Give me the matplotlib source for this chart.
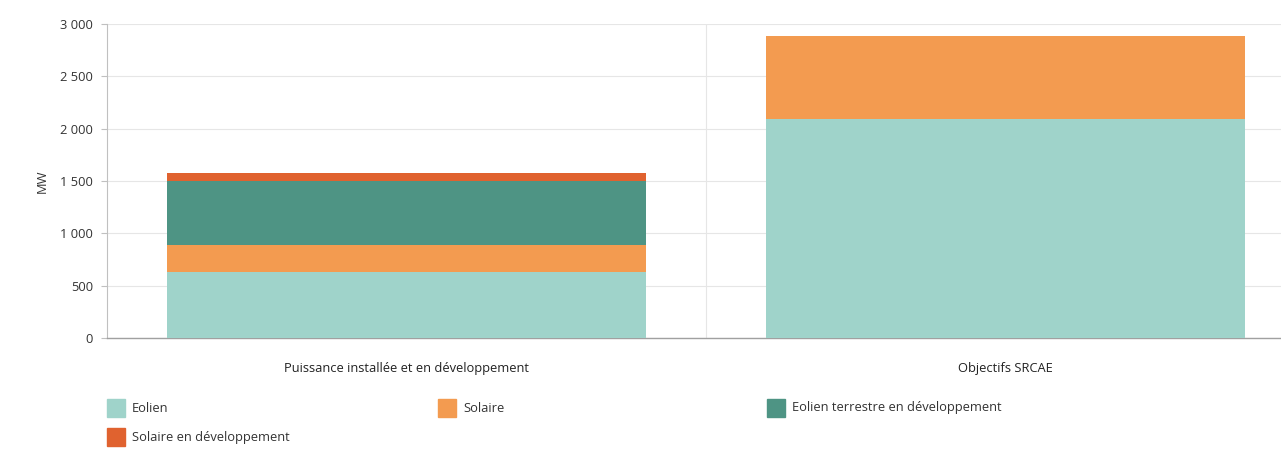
import matplotlib
matplotlib.use("Agg")
import matplotlib.pyplot as plt
from matplotlib.patches import Rectangle
from matplotlib.ticker import FuncFormatter, MultipleLocator

categories = ["Puissance installée et en développement", "Objectifs SRCAE"]
series_names = ["Eolien", "Solaire", "Eolien terrestre en développement",
                "Solaire en développement"]
eolien = [633, 2090]
solaire = [255, 795]
eolien_dev = [615, 0]
solaire_dev = [70, 0]
colors = ["#9fd3ca", "#f39b50", "#4e9484", "#e0622f"]

W, H = 1281, 451
fig = plt.figure(figsize=(W / 100, H / 100), dpi=100)
plt.rcParams["font.family"] = ["Open Sans", "DejaVu Sans"]
FS = 9.3

# axes box spans one category band past the right edge of the figure
x0, x1 = 107, 1305
y0, y1 = 338, 24
ax = fig.add_axes([x0 / W, 1 - y0 / H, (x1 - x0) / W, (y0 - y1) / H])

xs = range(len(categories))
bottom = [0] * len(categories)
for vals, col in zip([eolien, solaire, eolien_dev, solaire_dev], colors):
    ax.bar(xs, vals, bottom=bottom, width=0.8, color=col, linewidth=0, zorder=3)
    bottom = [b + v for b, v in zip(bottom, vals)]

ax.set_xlim(-0.5, 1.5)
ax.set_ylim(0, 3000)
ax.yaxis.set_major_locator(MultipleLocator(500))
ax.yaxis.set_major_formatter(FuncFormatter(lambda v, p: f"{int(v):,}".replace(",", " ")))
ax.grid(axis="y", color="#e6e6e6", linewidth=0.8, zorder=0)
ax.axvline(0.5, color="#e6e6e6", linewidth=0.8, zorder=0)

for s in ["top", "right"]:
    ax.spines[s].set_visible(False)
ax.spines["left"].set_color("#c0c0c0")
ax.spines["bottom"].set_color("#a0a0a0")
ax.spines["left"].set_linewidth(0.8)
ax.spines["bottom"].set_linewidth(1.0)

ax.set_xticks(list(xs))
ax.set_xticklabels(categories, fontsize=FS, color="#222222")
ax.tick_params(axis="x", length=0, pad=17)
ax.tick_params(axis="y", length=4, color="#c0c0c0", labelsize=FS, labelcolor="#333333", pad=6)
ax.set_ylabel("MW", fontsize=FS, color="#333333", labelpad=8)

# legend laid out in three columns below the plot
leg_pos = [(107, 408), (438, 408), (767, 408), (107, 437)]
for (px, py), name, col in zip(leg_pos, series_names, colors):
    fig.patches.append(Rectangle((px / W, 1 - (py + 9) / H), 18 / W, 18 / H,
                                 transform=fig.transFigure, color=col))
    fig.text((px + 25) / W, 1 - py / H, name, fontsize=FS, color="#333333",
             va="center", ha="left")

fig.savefig("out.png", dpi=100)
